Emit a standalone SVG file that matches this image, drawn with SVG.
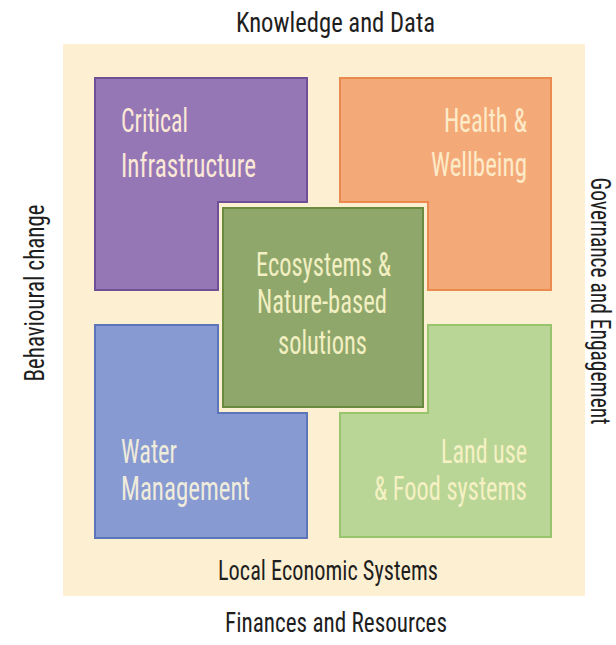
<svg xmlns="http://www.w3.org/2000/svg" width="616" height="645" viewBox="0 0 616 645">
  <style>
    .t { font-family: "Roboto Condensed", "Liberation Sans Narrow", "Liberation Sans", sans-serif; }
    .outer { font-size: 28px; fill: #1e1e1e; }
    .inner { font-size: 34px; }
    .shape { stroke-width: 2; stroke-linejoin: miter; }
  </style>
  <rect width="616" height="645" fill="#ffffff"/>
  <rect id="background" x="63" y="44" width="522" height="552" fill="#fdf0d2"/>

  <g id="critical-infrastructure">
    <path class="shape" d="M95,78 H307 V202 H218 V290 H95 Z" fill="#9677b6" stroke="#6e4f98"/>
    <text class="t inner" fill="#fbe9d6" x="121" y="132" textLength="67" lengthAdjust="spacingAndGlyphs">Critical</text>
    <text class="t inner" fill="#fbe9d6" x="121" y="177" textLength="135" lengthAdjust="spacingAndGlyphs">Infrastructure</text>
  </g>

  <g id="health-wellbeing">
    <path class="shape" d="M340,78 H551 V290 H428 V202 H340 Z" fill="#f4a979" stroke="#ea8a4f"/>
    <text class="t inner" fill="#fdebc8" x="527" y="132" text-anchor="end" textLength="83" lengthAdjust="spacingAndGlyphs">Health &amp;</text>
    <text class="t inner" fill="#fdebc8" x="527" y="176" text-anchor="end" textLength="96" lengthAdjust="spacingAndGlyphs">Wellbeing</text>
  </g>

  <g id="water-management">
    <path class="shape" d="M95,325 H218 V413 H307 V538 H95 Z" fill="#879ad1" stroke="#5c74b9"/>
    <text class="t inner" fill="#f0ecdc" x="121" y="463" textLength="56" lengthAdjust="spacingAndGlyphs">Water</text>
    <text class="t inner" fill="#f0ecdc" x="121" y="500" textLength="129" lengthAdjust="spacingAndGlyphs">Management</text>
  </g>

  <g id="land-use-food">
    <path class="shape" d="M428,325 H551 V537 H340 V413 H428 Z" fill="#bad696" stroke="#98c46d"/>
    <text class="t inner" fill="#f5f1c4" x="527" y="463" text-anchor="end" textLength="86" lengthAdjust="spacingAndGlyphs">Land use</text>
    <text class="t inner" fill="#f5f1c4" x="527" y="500" text-anchor="end" textLength="153" lengthAdjust="spacingAndGlyphs">&amp; Food systems</text>
  </g>

  <g id="ecosystems">
    <rect class="shape" x="223" y="208" width="200" height="199" fill="#8fa76b" stroke="#6a8a40"/>
    <text class="t inner" fill="#f2efc2" x="323.5" y="276" text-anchor="middle" textLength="135" lengthAdjust="spacingAndGlyphs">Ecosystems &amp;</text>
    <text class="t inner" fill="#f2efc2" x="322" y="313" text-anchor="middle" textLength="130" lengthAdjust="spacingAndGlyphs">Nature-based</text>
    <text class="t inner" fill="#f2efc2" x="322.5" y="354" text-anchor="middle" textLength="89" lengthAdjust="spacingAndGlyphs">solutions</text>
  </g>

  <g id="labels">
    <text class="t outer" x="335.5" y="32" text-anchor="middle" textLength="199" lengthAdjust="spacingAndGlyphs">Knowledge and Data</text>
    <text class="t outer" x="328" y="580" text-anchor="middle" textLength="220" lengthAdjust="spacingAndGlyphs">Local Economic Systems</text>
    <text class="t outer" x="336" y="632" text-anchor="middle" textLength="222" lengthAdjust="spacingAndGlyphs">Finances and Resources</text>
    <text class="t outer" transform="translate(44,293) rotate(-90)" x="0" y="0" text-anchor="middle" textLength="177" lengthAdjust="spacingAndGlyphs">Behavioural change</text>
    <text class="t outer" font-size="25" transform="translate(591,301) rotate(90)" x="0" y="0" text-anchor="middle" textLength="247" lengthAdjust="spacingAndGlyphs">Governance and Engagement</text>
  </g>
</svg>
